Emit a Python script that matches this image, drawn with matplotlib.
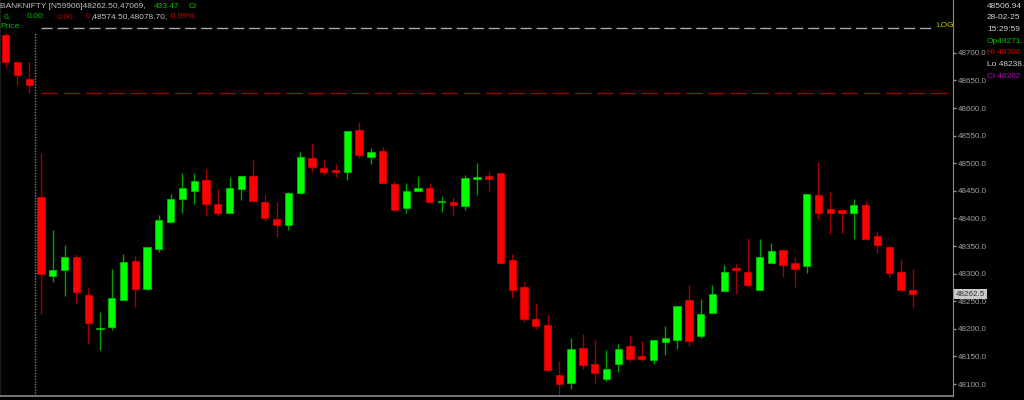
import matplotlib
matplotlib.use('Agg')
import matplotlib.pyplot as plt
from matplotlib.transforms import blended_transform_factory

# 5-minute candles, BANKNIFTY 28-02-25 (first 3 = tail of previous session)
opens = [48732, 48683, 48652, 48439, 48296, 48307, 48331, 48261, 48200, 48204,
         48252, 48322, 48273, 48345, 48394, 48436, 48450, 48470, 48426, 48409,
         48454, 48476, 48430, 48399, 48388, 48446, 48509, 48491, 48488, 48485,
         48560, 48512, 48523, 48462, 48419, 48450, 48456, 48430, 48430, 48423,
         48471, 48477, 48482, 48324, 48276, 48218, 48207, 48117, 48101, 48165,
         48137, 48110, 48136, 48168, 48151, 48144, 48177, 48180, 48253, 48187,
         48229, 48269, 48311, 48303, 48270, 48320, 48343, 48319, 48313, 48442,
         48417, 48415, 48409, 48424, 48368, 48349, 48303, 48271.05]
highs = [48736, 48683, 48684, 48519, 48379, 48352, 48336, 48275, 48231, 48308,
         48336, 48332, 48348, 48406, 48444, 48483, 48482, 48490, 48453, 48475,
         48477, 48506, 48445, 48429, 48448, 48520, 48536, 48506, 48498, 48558,
         48574.5, 48528, 48530, 48468, 48464, 48476, 48464, 48441, 48438, 48478,
         48500, 48486, 48482, 48336, 48284, 48246, 48226, 48142, 48183, 48191,
         48179, 48161, 48172, 48189, 48178, 48180, 48205, 48242, 48279, 48254,
         48279, 48316, 48320, 48365, 48362, 48356, 48343, 48330, 48444, 48502,
         48448, 48415, 48436, 48432, 48377, 48352, 48327, 48308.4]
lows = [48674, 48641, 48628, 48226, 48284, 48260, 48247, 48174, 48162, 48198,
        48252, 48240, 48270, 48339, 48393, 48409, 48426, 48407, 48405, 48409,
        48434, 48429, 48395, 48367, 48379, 48445, 48485, 48479, 48475, 48470,
        48509, 48498, 48463, 48415, 48410, 48449, 48429, 48412, 48407, 48415,
        48442, 48450, 48320, 48255, 48212, 48200, 48125, 48078.7, 48091, 48128,
        48102, 48106, 48121, 48139, 48142, 48136, 48153, 48164, 48169, 48183,
        48229, 48269, 48263, 48275, 48270, 48320, 48294, 48275, 48302, 48399,
        48371, 48374, 48363, 48362, 48337, 48294, 48270, 48238.5]
closes = [48683, 48660, 48642, 48300, 48307, 48331, 48267, 48211, 48202, 48255,
          48321, 48272, 48348, 48397, 48436, 48455, 48468, 48427, 48409, 48455,
          48477, 48432, 48400, 48388, 48446, 48512, 48494, 48485, 48484, 48558,
          48514, 48520, 48464, 48416, 48450, 48456, 48429, 48432, 48424, 48473,
          48475, 48472, 48320, 48271, 48218, 48206, 48125, 48100, 48164, 48134,
          48120, 48127, 48164, 48146, 48146, 48180, 48183, 48242, 48178, 48226,
          48263, 48303, 48307, 48280, 48330, 48341, 48315, 48308, 48444, 48409,
          48410, 48409, 48424, 48363, 48352, 48302, 48270, 48262.5]

price_ticks = [48100, 48150, 48200, 48250, 48300, 48350, 48400, 48450,
               48500, 48550, 48600, 48650, 48700]
prev_close = 48745
level_line = 48627
last_price = 48262.5
session_break = 2.5

info_lines = ['48506.94', '28-02-25', '15:29:59', 'Op48271.', 'Hi 48308.',
              'Lo 48238.', 'Cl 48262.']
info_colors = ['#d0d0d0', '#d0d0d0', '#d0d0d0', '#00c000', '#e00000',
               '#d0d0d0', '#c000c0']


def main():
    W, H = 1024, 400
    fig = plt.figure(figsize=(W / 100, H / 100), dpi=100, facecolor='black')
    ax = fig.add_axes([0, 4 / H, 953 / W, 396 / H], facecolor='black')

    font = 'Liberation Sans'
    fs = 6
    n = len(opens)
    xs = list(range(n))
    up = [c >= o for o, c in zip(opens, closes)]

    # wicks
    ax.vlines(xs, lows, highs,
              colors=['#00a000' if u else '#a00000' for u in up],
              linewidth=1, zorder=2)
    # bodies
    bottoms = [min(o, c) for o, c in zip(opens, closes)]
    heights = [max(abs(c - o), 1.6) for o, c in zip(opens, closes)]
    ax.bar(xs, heights, bottom=bottoms, width=0.62,
           color=['#00ff00' if u else '#ff0000' for u in up],
           edgecolor=['#00c800' if u else '#e00000' for u in up],
           linewidth=0.5, zorder=3)

    # reference lines
    ax.hlines(prev_close, 2.98, 78.75, colors='#a8a8a8', linewidth=1,
              linestyles=(0, (8, 3.5)), zorder=1)
    ax.hlines(level_line, 2.98, 80.42, colors='#a00000', linewidth=1,
              linestyles=(0, (12, 4)), zorder=1)
    ax.axvline(session_break, ymin=0, ymax=1 - 33 / 396, color='#808080',
               linewidth=1, linestyle=(0, (1, 1)), zorder=1)
    ax.text(79.0, prev_close + 4, 'LOG', color='#c8c800', fontsize=fs,
            family=font, ha='left', va='center')

    ax.set_xlim(-0.484, 80.42)
    ax.set_ylim(48078.3, 48795.7)
    ax.set_xticks([])
    ax.yaxis.tick_right()
    ax.set_yticks(price_ticks)
    ax.set_yticklabels([f'{t:.1f}' for t in price_ticks])
    ax.tick_params(axis='y', length=2.5, width=1, color='#909090',
                   labelcolor='#a0a0a0', labelsize=5.8, pad=1)
    for lab in ax.get_yticklabels():
        lab.set_family(font)
    ax.spines['top'].set_visible(False)
    ax.spines['left'].set_color('#1e1e1e')
    ax.spines['right'].set_color('#8a8a8a')
    ax.spines['bottom'].set_color('#8a8a8a')
    ax.spines['bottom'].set_linewidth(1.2)

    # last price tag
    tr = blended_transform_factory(ax.transAxes, ax.transData)
    ax.text(1.003, last_price, f'{last_price:.1f}', transform=tr,
            color='#303030', fontsize=5.8, family=font, ha='left',
            va='center', clip_on=False,
            bbox=dict(boxstyle='square,pad=0.2', fc='#c8c8c8', ec='none'))

    # header
    def px(x, y, s, c):
        fig.text(x / W, 1 - y / H, s, color=c, fontsize=fs, family=font,
                 ha='left', va='center')

    px(0, 6, 'BANKNIFTY [N59906]48262.50,47069,', '#c0c0c0')
    px(154, 6, '433.47', '#00c000')
    px(189, 6, 'Cr', '#00c000')
    px(4, 17, '0,', '#00c000')
    px(27, 17, '0.00:', '#00c000')
    px(57, 17, '0.00,', '#c00000')
    px(86, 17, '0', '#c00000')
    px(90, 17, ',48574.50,48078.70,', '#c0c0c0')
    px(169, 17, '-0.99%', '#e00000')
    px(0, 27, 'Price', '#00c000')

    for k, (s, c) in enumerate(zip(info_lines, info_colors)):
        px(987, 6 + k * 11.7, s, c)

    fig.savefig('out.png', dpi=100, facecolor='black')


if __name__ == '__main__': main()
